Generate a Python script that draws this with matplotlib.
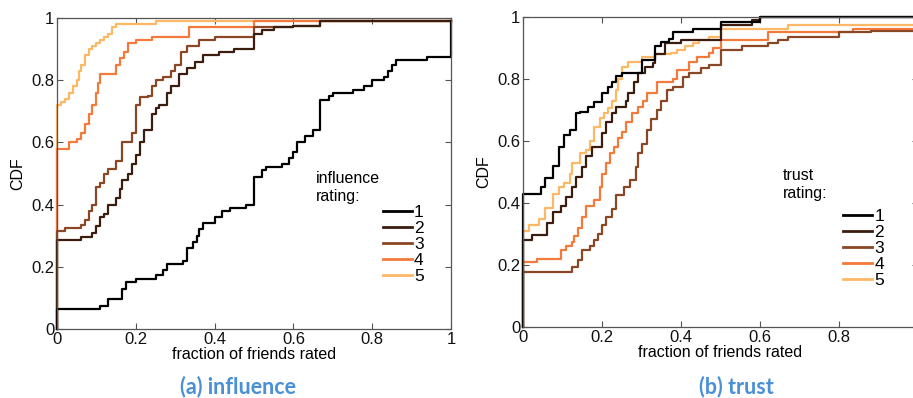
import numpy as np
import matplotlib.pyplot as plt
from matplotlib.lines import Line2D

# --------------------------------------------------
# DATA: step CDFs (x = fraction, y = CDF)
# --------------------------------------------------

ratings = ["1", "2", "3", "4", "5"]
colors = ["#000000", "#3a1d0f", "#8a4726", "#f47a3c", "#fdb865"]

# (a) influence
inf1_x = [0, 0, 0.11, 0.13, 0.165, 0.175, 0.2, 0.25, 0.27, 0.28, 0.32, 0.33, 0.345, 0.355,
          0.36, 0.37, 0.40, 0.42, 0.44, 0.48, 0.5, 0.52, 0.53, 0.57, 0.59, 0.60, 0.61, 0.63,
          0.65, 0.667, 0.69, 0.70, 0.75, 0.78, 0.80, 0.83, 0.84, 0.85, 0.86, 0.94, 1.0]
inf1_y = [0, 0.065, 0.075, 0.095, 0.13, 0.15, 0.16, 0.175, 0.19, 0.21, 0.22, 0.26, 0.28, 0.30,
          0.32, 0.34, 0.36, 0.38, 0.39, 0.40, 0.49, 0.51, 0.52, 0.53, 0.55, 0.57, 0.60, 0.62,
          0.64, 0.735, 0.75, 0.76, 0.77, 0.78, 0.80, 0.81, 0.83, 0.85, 0.865, 0.875, 0.99]

inf2_x = [0, 0, 0.06, 0.09, 0.1, 0.11, 0.12, 0.13, 0.15, 0.16, 0.165, 0.18, 0.19, 0.2, 0.21,
          0.22, 0.24, 0.25, 0.26, 0.28, 0.29, 0.31, 0.33, 0.35, 0.37, 0.41, 0.45, 0.5, 0.52,
          0.55, 0.6, 0.667, 1.0]
inf2_y = [0, 0.285, 0.295, 0.31, 0.33, 0.36, 0.37, 0.40, 0.42, 0.45, 0.48, 0.50, 0.53, 0.56,
          0.60, 0.64, 0.69, 0.71, 0.72, 0.76, 0.78, 0.82, 0.84, 0.86, 0.88, 0.89, 0.90, 0.95,
          0.96, 0.97, 0.975, 0.99, 0.99]

inf3_x = [0, 0, 0.02, 0.06, 0.07, 0.08, 0.09, 0.1, 0.11, 0.12, 0.13, 0.15, 0.165, 0.19, 0.2,
          0.21, 0.23, 0.24, 0.25, 0.27, 0.29, 0.30, 0.315, 0.33, 0.36, 0.4, 0.5, 0.6, 0.667, 1.0]
inf3_y = [0, 0.315, 0.325, 0.335, 0.35, 0.38, 0.40, 0.455, 0.47, 0.50, 0.515, 0.54, 0.60,
          0.63, 0.72, 0.745, 0.75, 0.78, 0.80, 0.81, 0.83, 0.85, 0.89, 0.91, 0.93, 0.94, 0.97,
          0.975, 0.99, 0.99]

inf4_x = [0, 0, 0.03, 0.05, 0.06, 0.07, 0.08, 0.09, 0.1, 0.105, 0.11, 0.15, 0.16, 0.17, 0.18,
          0.2, 0.24, 0.335, 0.5, 1.0]
inf4_y = [0, 0.58, 0.60, 0.61, 0.63, 0.66, 0.69, 0.72, 0.76, 0.79, 0.82, 0.85, 0.87, 0.89,
          0.92, 0.93, 0.94, 0.97, 0.99, 0.99]

inf5_x = [0, 0, 0.01, 0.02, 0.03, 0.04, 0.05, 0.055, 0.06, 0.07, 0.08, 0.09, 0.1, 0.11, 0.12,
          0.13, 0.14, 0.15, 0.25, 1.0]
inf5_y = [0, 0.72, 0.73, 0.74, 0.76, 0.78, 0.80, 0.83, 0.85, 0.88, 0.90, 0.91, 0.92, 0.93,
          0.94, 0.95, 0.97, 0.98, 0.99, 0.99]

# (b) trust
tr1_x = [0, 0, 0.046, 0.055, 0.075, 0.09, 0.105, 0.12, 0.135, 0.145, 0.165, 0.18, 0.2, 0.215,
         0.225, 0.235, 0.25, 0.30, 0.31, 0.335, 0.35, 0.37, 0.38, 0.43, 0.5, 0.6, 1.0]
tr1_y = [0, 0.43, 0.45, 0.48, 0.52, 0.58, 0.62, 0.635, 0.69, 0.695, 0.71, 0.725, 0.755, 0.775,
         0.79, 0.81, 0.82, 0.86, 0.86, 0.905, 0.92, 0.93, 0.95, 0.96, 0.985, 1.0, 1.0]

tr2_x = [0, 0, 0.023, 0.06, 0.075, 0.095, 0.11, 0.125, 0.135, 0.15, 0.16, 0.175, 0.2, 0.21,
         0.225, 0.235, 0.26, 0.265, 0.28, 0.29, 0.31, 0.33, 0.335, 0.36, 0.40, 0.5, 0.58, 0.6, 1.0]
tr2_y = [0, 0.28, 0.297, 0.335, 0.37, 0.39, 0.42, 0.45, 0.485, 0.515, 0.55, 0.58, 0.625, 0.66,
         0.69, 0.71, 0.73, 0.755, 0.79, 0.82, 0.84, 0.85, 0.88, 0.915, 0.925, 0.975, 0.99, 1.0, 1.0]

tr3_x = [0, 0, 0.125, 0.14, 0.15, 0.17, 0.18, 0.19, 0.2, 0.21, 0.225, 0.235, 0.255, 0.27,
         0.285, 0.29, 0.30, 0.315, 0.325, 0.34, 0.35, 0.365, 0.38, 0.405, 0.42, 0.45, 0.47,
         0.5, 0.555, 0.62, 0.645, 0.67, 0.8, 0.88, 1.0]
tr3_y = [0, 0.177, 0.195, 0.215, 0.25, 0.26, 0.28, 0.30, 0.33, 0.355, 0.38, 0.425, 0.45, 0.475,
         0.515, 0.56, 0.59, 0.635, 0.67, 0.70, 0.73, 0.765, 0.775, 0.805, 0.82, 0.835, 0.845,
         0.895, 0.905, 0.915, 0.925, 0.935, 0.95, 0.955, 0.955]

tr4_x = [0, 0, 0.035, 0.095, 0.11, 0.125, 0.13, 0.14, 0.15, 0.16, 0.18, 0.195, 0.2, 0.21,
         0.22, 0.23, 0.24, 0.25, 0.26, 0.275, 0.29, 0.305, 0.315, 0.34, 0.38, 0.39, 0.42, 0.44,
         0.47, 0.48, 0.5, 0.62, 0.835, 1.0]
tr4_y = [0, 0.21, 0.22, 0.25, 0.26, 0.275, 0.295, 0.32, 0.355, 0.39, 0.41, 0.45, 0.495, 0.53,
         0.56, 0.58, 0.61, 0.63, 0.66, 0.69, 0.71, 0.73, 0.755, 0.79, 0.80, 0.83, 0.855, 0.87,
         0.885, 0.90, 0.925, 0.95, 0.96, 0.96]

tr5_x = [0, 0, 0.015, 0.04, 0.055, 0.075, 0.09, 0.105, 0.12, 0.125, 0.145, 0.16, 0.17, 0.18,
         0.195, 0.205, 0.215, 0.225, 0.235, 0.24, 0.25, 0.265, 0.30, 0.335, 0.375, 0.39, 0.41,
         0.43, 0.445, 0.47, 0.5, 0.67, 1.0]
tr5_y = [0, 0.31, 0.33, 0.35, 0.385, 0.43, 0.45, 0.465, 0.495, 0.53, 0.56, 0.57, 0.60, 0.645,
         0.675, 0.69, 0.705, 0.73, 0.765, 0.80, 0.84, 0.855, 0.87, 0.88, 0.885, 0.895, 0.905,
         0.915, 0.925, 0.935, 0.96, 0.975, 0.975]

influence = [(inf1_x, inf1_y), (inf2_x, inf2_y), (inf3_x, inf3_y), (inf4_x, inf4_y), (inf5_x, inf5_y)]
trust = [(tr1_x, tr1_y), (tr2_x, tr2_y), (tr3_x, tr3_y), (tr4_x, tr4_y), (tr5_x, tr5_y)]

ticks = [0, 0.2, 0.4, 0.6, 0.8, 1]
tick_labels = ["0", "0.2", "0.4", "0.6", "0.8", "1"]
# the right panel runs past the picture edge, so its last x label is not shown
tick_labels_cut = ["0", "0.2", "0.4", "0.6", "0.8", ""]

# --------------------------------------------------
# FIGURE
# --------------------------------------------------

plt.rcParams['font.family'] = ['Liberation Sans', 'DejaVu Sans']

fig = plt.figure(figsize=(9.13, 3.98), dpi=100)
ax1 = fig.add_axes([57 / 913, 69 / 398, 394 / 913, 311 / 398])
ax2 = fig.add_axes([523 / 913, 71 / 398, 395 / 913, 310 / 398])


def draw_panel(ax, curves, xlabels, legend_word, word_xy, leg_xy):
    # draw in reverse so the black curve sits on top
    for (xs, ys), c in reversed(list(zip(curves, colors))):
        ax.step(xs, ys, where='post', color=c, lw=1.6, clip_on=False)
    ax.set_xlim(0, 1)
    ax.set_ylim(0, 1)
    ax.set_xticks(ticks)
    ax.set_xticklabels(xlabels)
    ax.set_yticks(ticks)
    ax.set_yticklabels(tick_labels)
    ax.tick_params(direction='in', top=True, right=True, length=4, width=0.8,
                   labelsize=12, colors='#555555', labelcolor='#111111', pad=2)
    for s in ax.spines.values():
        s.set_color('#555555')
        s.set_linewidth(0.9)
    ax.set_xlabel("fraction of friends rated", fontsize=11.5, labelpad=0)
    ax.set_ylabel("CDF", fontsize=11.5, labelpad=4)

    ax.text(word_xy[0], word_xy[1], legend_word, transform=ax.transAxes,
            fontsize=11.5, va='center', ha='left')
    ax.text(word_xy[0], word_xy[1] - 0.058, "rating:", transform=ax.transAxes,
            fontsize=11.5, va='center', ha='left')

    handles = [Line2D([], [], color=c, lw=2) for c in colors]
    ax.legend(handles, ratings, loc='upper left', bbox_to_anchor=leg_xy,
              frameon=False, fontsize=12.5, handlelength=1.7, handletextpad=0.1,
              labelspacing=0.05, borderpad=0, borderaxespad=0)


draw_panel(ax1, influence, tick_labels, "influence", (0.657, 0.484), (0.827, 0.398))
draw_panel(ax2, trust, tick_labels_cut, "trust", (0.658, 0.49), (0.81, 0.38))

fig.text(238 / 913, 1 - 387 / 398, "(a) influence", color='#4a90d6', fontsize=15.5,
         fontweight='bold', family='Lato', ha='center', va='center')
fig.text(736 / 913, 1 - 387 / 398, "(b) trust", color='#4a90d6', fontsize=15.5,
         fontweight='bold', family='Lato', ha='center', va='center')

plt.savefig("out.png", dpi=100)
